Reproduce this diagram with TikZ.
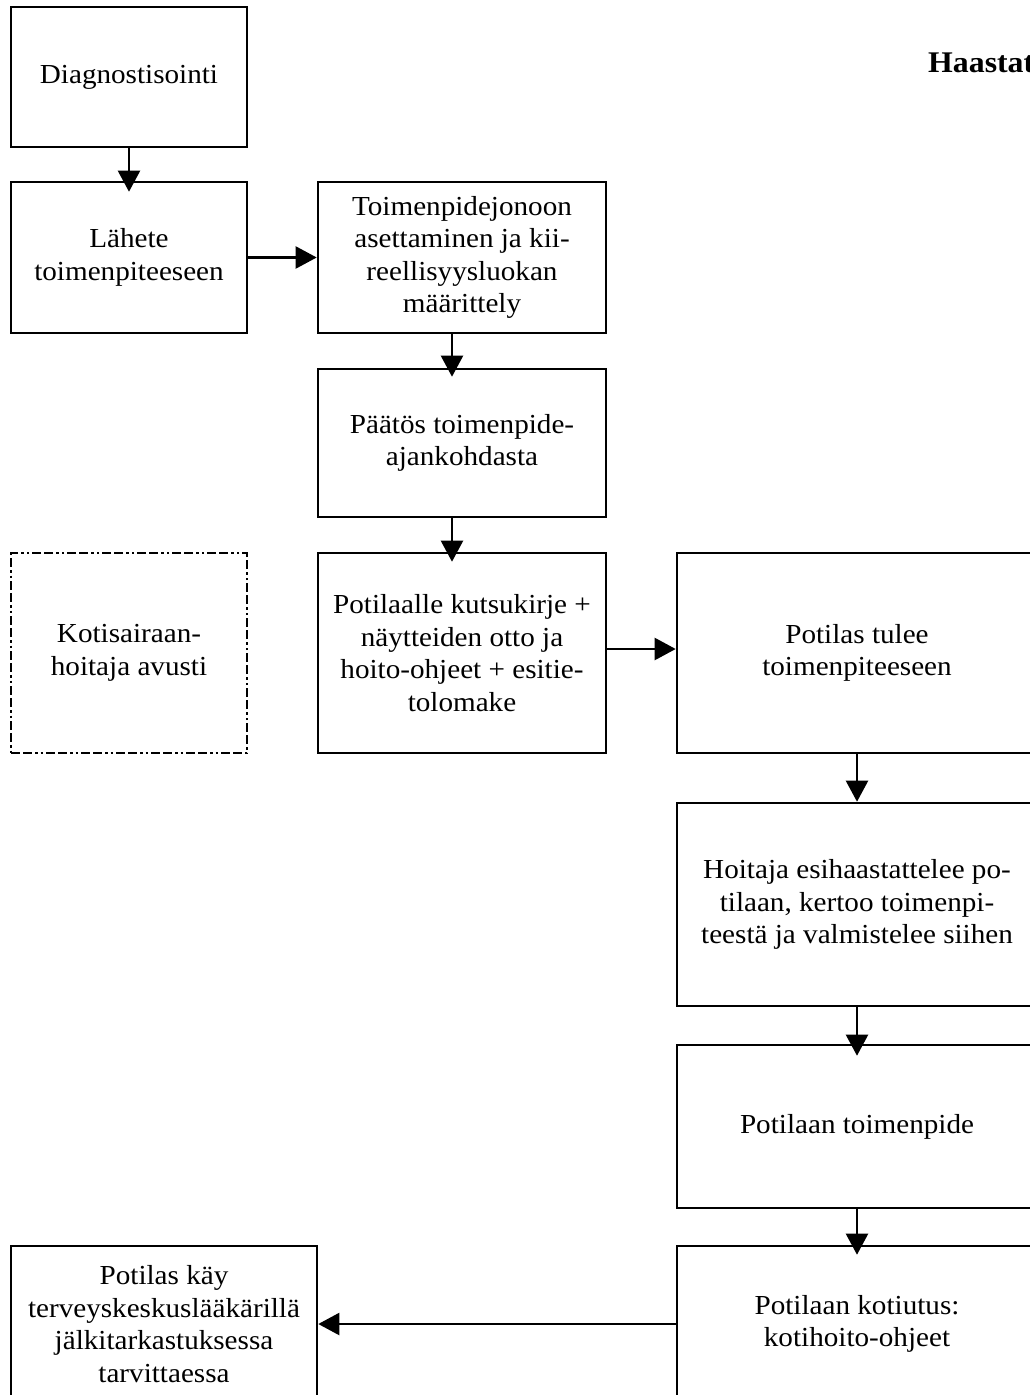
\documentclass[tikz,border=0pt]{standalone}
\usepackage{fontspec}
\setmainfont{Liberation Serif}[FakeStretch=1.06]
\usetikzlibrary{arrows.meta}
\tikzset{
  boxnode/.style={draw, line width=2.6pt, inner sep=0pt, align=center,
    font=\fontsize{27.5}{32.5}\selectfont},
  dashbox/.style={boxnode, line width=2.2pt,
    dash pattern=on 9pt off 3pt on 9pt off 3pt on 2.5pt off 3pt on 2.5pt off 3pt},
  flow/.style={line width=2.2pt, -{Triangle[width=22pt,length=21pt]}},
  titletext/.style={font=\fontsize{30}{34}\selectfont\bfseries, inner sep=0pt, anchor=base west}
}
\begin{document}
\begin{tikzpicture}[x=1pt,y=-1pt]
\useasboundingbox (0,0) rectangle (1029,1395);
\node[titletext] (title) at (928,72) {Haastat};
\node[boxnode, minimum width=236pt, minimum height=140pt] (n1) at (129,77) {Diagnostisointi};
\node[boxnode, minimum width=236pt, minimum height=151pt] (n2) at (129,257.5) {Lähete\\toimenpiteeseen};
\node[boxnode, minimum width=288pt, minimum height=151pt] (n3) at (462,257.5) {Toimenpidejonoon\\asettaminen ja kii-\\reellisyysluokan\\määrittely};
\node[boxnode, minimum width=288pt, minimum height=148pt] (n4) at (462,443) {Päätös toimenpide-\\ajankohdasta};
\node[boxnode, minimum width=288pt, minimum height=200pt] (n5) at (462,653) {Potilaalle kutsukirje +\\näytteiden otto ja\\hoito-ohjeet + esitie-\\tolomake};
\node[dashbox, minimum width=236pt, minimum height=200pt] (nk) at (129,653) {Kotisairaan-\\hoitaja avusti};
\node[boxnode, minimum width=360pt, minimum height=200pt] (n6) at (857,653) {Potilas tulee\\toimenpiteeseen};
\node[boxnode, minimum width=360pt, minimum height=203pt] (n7) at (857,904.5) {Hoitaja esihaastattelee po-\\tilaan, kertoo toimenpi-\\teestä ja valmistelee siihen};
\node[boxnode, minimum width=360pt, minimum height=163pt] (n8) at (857,1126.5) {Potilaan toimenpide};
\node[boxnode, minimum width=360pt, minimum height=156pt] (n9) at (857,1324) {Potilaan kotiutus:\\kotihoito-ohjeet};
\node[boxnode, minimum width=306pt, minimum height=156pt] (n10) at (164,1324) {Potilas käy\\terveyskeskuslääkärillä\\jälkitarkastuksessa\\tarvittaessa};
\draw[flow, shorten >=-11pt] (n1.south) -- (n2.north);
\draw[flow] (n2.east) -- (n3.west);
\draw[flow, shorten >=-9pt] ([xshift=-10pt]n3.south) -- ([xshift=-10pt]n4.north);
\draw[flow, shorten >=-10pt] ([xshift=-10pt]n4.south) -- ([xshift=-10pt]n5.north);
\draw[flow] ([yshift=4pt]n5.east) -- ([yshift=4pt]n6.west);
\draw[flow] (n6.south) -- (n7.north);
\draw[flow, shorten >=-12pt] (n7.south) -- (n8.north);
\draw[flow, shorten >=-10pt] (n8.south) -- (n9.north);
\draw[flow] (n9.west) -- (n10.east);
\end{tikzpicture}
\end{document}
